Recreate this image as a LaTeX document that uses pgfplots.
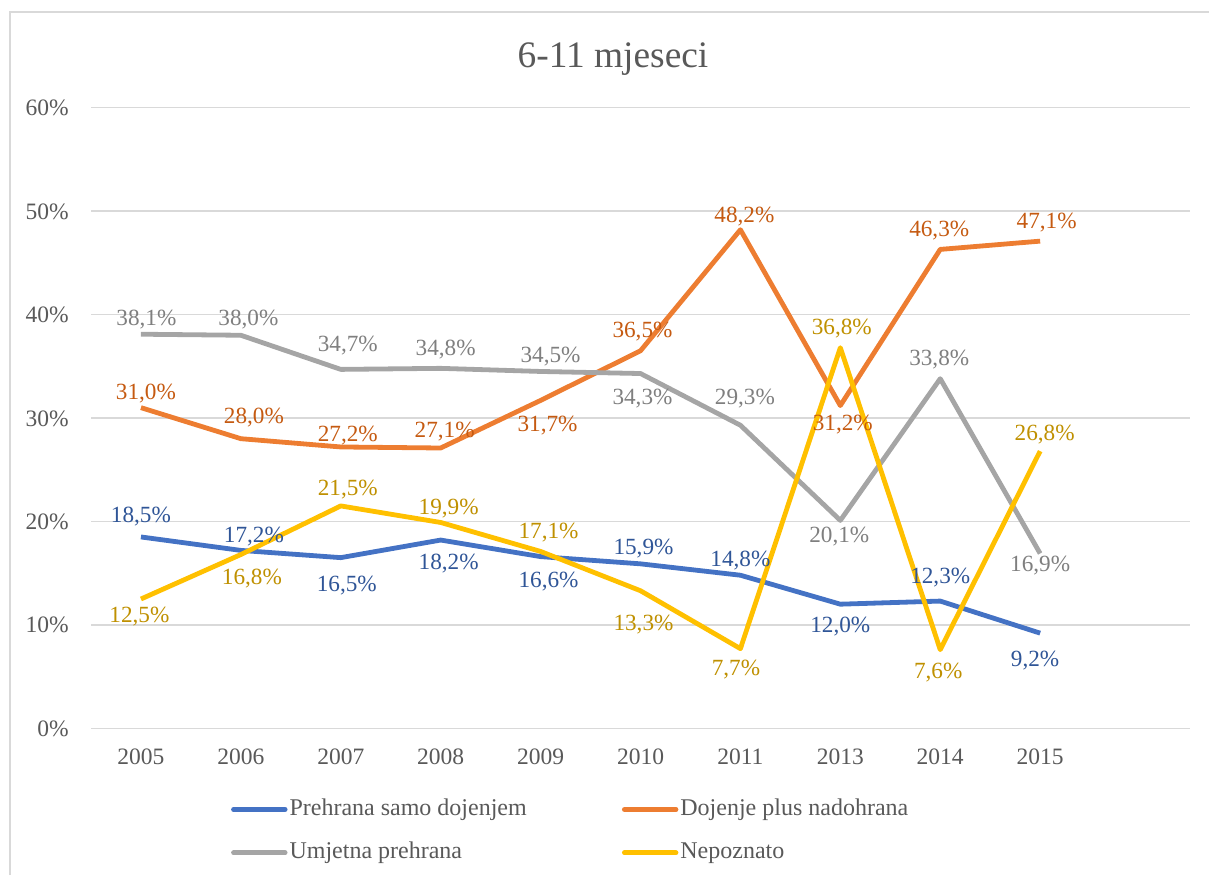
\documentclass[border=0pt]{standalone}
\usepackage{pgfplots}
\pgfplotsset{compat=1.18}
\usepackage{pgfplotstable}
\usepackage{fontspec}
\setmainfont{Liberation Serif}
\definecolor{txt}{HTML}{595959}
\definecolor{gridc}{HTML}{D9D9D9}
\definecolor{bline}{HTML}{4472C4}
\definecolor{blab}{HTML}{2F5597}
\definecolor{oline}{HTML}{ED7D31}
\definecolor{olab}{HTML}{C55A11}
\definecolor{gline}{HTML}{A5A5A5}
\definecolor{glab}{HTML}{7F7F7F}
\definecolor{yline}{HTML}{FFC000}
\definecolor{ylab}{HTML}{BF9000}

\pgfplotstableread{
x y dx dy
0 18.5 0 10
1 17.2 6.5 7
2 16.5 3 -14
3 18.2 4 -12
4 16.6 4 -12.5
5 15.9 1.5 7.5
6 14.8 0 7.5
7 12.0 0 -11
8 12.3 0 12
9 9.2 -2.5 -13.5
}\blue
\pgfplotstableread{
x y dx dy
0 31.0 2.5 7
1 28.0 6.5 10.5
2 27.2 3.5 5.5
3 27.1 2 8
4 31.7 3.5 -12.5
5 36.5 1 9.5
6 48.2 2 6.5
7 31.2 1.25 -9.5
8 46.3 -0.5 9.5
9 47.1 3.25 9.5
}\orange
\pgfplotstableread{
x y dx dy
0 38.1 2.75 7.5
1 38.0 3.75 8
2 34.7 3.5 12
3 34.8 2.5 9.5
4 34.5 5 7.5
5 34.3 1 -12.5
6 29.3 2.25 13.5
7 20.1 -0.5 -8
8 33.8 -0.5 9.5
9 16.9 0 -6.25
}\gray
\pgfplotstableread{
x y dx dy
0 12.5 -0.75 -9
1 16.8 5.5 -12
2 21.5 3.5 8
3 19.9 4 7
4 17.1 4 9.5
5 13.3 1.5 -17
6 7.7 -2.25 -10.5
7 36.8 0.75 9.5
8 7.6 -1 -11.5
9 26.8 2.25 8.5
}\yellow

\begin{document}
\begin{tikzpicture}
\useasboundingbox (0,0) rectangle (604.5pt,437.5pt);
\draw[gridc, line width=0.75pt] (5pt,0) -- (5pt,431.4pt) -- (604.5pt,431.4pt);
\node[anchor=base, text=txt, font=\fontsize{18.7}{22}\selectfont] at (306.5pt,403.5pt) {6-11 mjeseci};
\begin{axis}[
  at={(45.5pt,73.35pt)}, anchor=south west,
  scale only axis, width=549.5pt, height=310.3pt,
  xmin=-0.5, xmax=10.5, ymin=0, ymax=60,
  xtick={0,...,9},
  xticklabels={2005,2006,2007,2008,2009,2010,2011,2013,2014,2015},
  ytick={0,10,...,60},
  yticklabel={\pgfmathprintnumber{\tick}\%},
  /pgf/number format/assume math mode=true,
  axis line style={draw=none},
  major tick length=0pt,
  ymajorgrids, grid style={gridc, line width=0.75pt},
  tick label style={text=txt, font=\fontsize{11.75}{14}\selectfont},
  xticklabel style={anchor=base, inner sep=0pt, yshift=-18pt},
  yticklabel style={anchor=base east, inner sep=0pt, xshift=-11pt, yshift=-4pt},
  legend image code/.code={\draw[#1, line cap=round] (0pt,0pt) -- (25.8pt,0pt);},
  legend style={at={(axis description cs:0.1275,-0.1131)}, anchor=north west,
    draw=none, fill=none, inner sep=0pt, outer sep=0pt,
    font=\fontsize{12}{14}\selectfont, text=txt,
    nodes={inner sep=0pt, text height=8.5pt, text depth=2.5pt, anchor=west},
    row sep=10.65pt,
    /tikz/every odd column/.append style={column sep=1pt},
    /tikz/every even column/.append style={column sep=47.6pt}},
  legend columns=2,
  legend cell align=left,
  every axis plot/.append style={line width=2.4pt, line join=round},
  visualization depends on={\thisrow{dx} \as \mydx},
  visualization depends on={\thisrow{dy} \as \mydy},
  nodes near coords={\pgfmathprintnumber[fixed,fixed zerofill,precision=1,use comma]{\pgfplotspointmeta}\%},
  every node near coord/.append style={anchor=center, inner sep=0pt, xshift=\mydx pt, yshift=\mydy pt, font=\fontsize{11.6}{14}\selectfont},
]
\addplot[bline, mark=none, every node near coord/.append style={text=blab}] table[x=x,y=y] {\blue};
\addlegendentry{Prehrana samo dojenjem}
\addplot[oline, mark=none, every node near coord/.append style={text=olab}] table[x=x,y=y] {\orange};
\addlegendentry{Dojenje plus nadohrana}
\addplot[gline, mark=none, every node near coord/.append style={text=glab}] table[x=x,y=y] {\gray};
\addlegendentry{Umjetna prehrana}
\addplot[yline, mark=none, every node near coord/.append style={text=ylab}] table[x=x,y=y] {\yellow};
\addlegendentry{Nepoznato}
\end{axis}
\end{tikzpicture}
\end{document}
